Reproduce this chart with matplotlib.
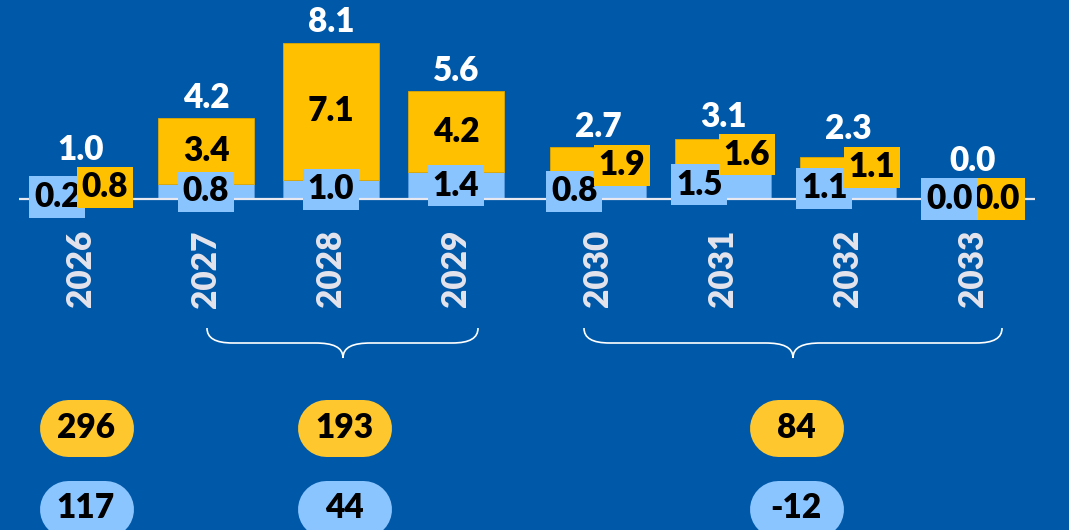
import numpy as np
import matplotlib
matplotlib.use("Agg")
import matplotlib.pyplot as plt
from matplotlib.patches import PathPatch
from matplotlib.path import Path

# -----------------------------
# Data
# -----------------------------
years = ["2026", "2027", "2028", "2029", "2030", "2031", "2032", "2033"]
blue_vals = [0.2, 0.8, 1.0, 1.4, 0.8, 1.5, 1.1, 0.0]
yellow_vals = [0.8, 3.4, 7.1, 4.2, 1.9, 1.6, 1.1, 0.0]
totals = [1.0, 4.2, 8.1, 5.6, 2.7, 3.1, 2.3, 0.0]

pill_yellow = ["296", "193", "84"]
pill_blue = ["117", "44", "-12"]

# -----------------------------
# Style
# -----------------------------
BG = "#0058A8"
YELLOW = "#FFC000"
LIGHTBLUE = "#8AC4FF"
PILL_YELLOW = "#FFC72E"
PILL_BLUE = "#8BC5FF"
WHITE = "#FFFFFF"
GREY = "#E4E4EC"

plt.rcParams["font.family"] = ["Lato", "DejaVu Sans"]
plt.rcParams["font.weight"] = "heavy"

W, H = 1069, 530
fig = plt.figure(figsize=(W / 100, H / 100), dpi=100, facecolor=BG)

# main axes covers the full height; baseline at pixel 199, 19.26 px per unit
px_unit_x = 125.0
px_unit_y = 19.26
x0_px = 81.0
base_px = 199.0
ax_left_px, ax_right_px = 19, 1035
ax = fig.add_axes([ax_left_px / W, 0, (ax_right_px - ax_left_px) / W, 1])
ax.set_facecolor(BG)
ax.set_xlim((ax_left_px - x0_px) / px_unit_x, (ax_right_px - x0_px) / px_unit_x)
ax.set_ylim(-(H - base_px) / px_unit_y, base_px / px_unit_y)
ax.axis("off")

idx = np.arange(len(years))
x = idx + np.where(idx >= 4, 0.136, 0.0)
bw = 0.77

ax.bar(x, blue_vals, bw, color=LIGHTBLUE, edgecolor="#5a9de0", linewidth=0.6, zorder=2)
ax.bar(x, yellow_vals, bw, bottom=blue_vals, color=YELLOW, edgecolor="#e0a800",
       linewidth=0.6, zorder=2)
ax.axhline(0, color="#E8E8F0", linewidth=1.6, zorder=3)

label_kw = dict(ha="center", va="center", fontsize=24, fontweight="heavy", color="black")
for i in range(len(years)):
    b, y, t = blue_vals[i], yellow_vals[i], totals[i]
    split = y < 2.0
    dx = 0.19 if split else 0.0
    yc = b + y / 2
    # last bar: blue label sits over the yellow one
    zb, zy = (6, 5) if b == 0 and y == 0 else (5, 6)
    ax.text(x[i] - dx, b / 2, f"{b:.1f}", bbox=dict(boxstyle="square,pad=0.14",
            fc=LIGHTBLUE, ec="none"), zorder=zb, **label_kw)
    ax.text(x[i] + dx, yc, f"{y:.1f}", bbox=dict(boxstyle="square,pad=0.14",
            fc=YELLOW, ec="none"), zorder=zy, **label_kw)
    top = yc + 1.45 if split else t + 0.55
    ax.text(x[i], top, f"{t:.1f}", ha="center", va="baseline", fontsize=24,
            fontweight="heavy", color=WHITE, zorder=5)
    ax.text(x[i], -31 / px_unit_y, years[i], rotation=90, ha="center", va="top",
            fontsize=24, fontweight="heavy", color=GREY, zorder=5)

# -----------------------------
# Overlay in pixel coordinates (braces and pills)
# -----------------------------
ov = fig.add_axes([0, 0, 1, 1])
ov.set_xlim(0, W)
ov.set_ylim(H, 0)
ov.axis("off")
ov.patch.set_alpha(0)


def brace(x1, x2, xm, ye=328, yf=343, yt=358):
    verts = [
        (x1, ye),
        (x1, ye + 10), (x1 + 8, yf), (x1 + 26, yf),
        (xm - 28, yf),
        (xm - 10, yf), (xm, yf + 4), (xm, yt),
        (xm, yf + 4), (xm + 10, yf), (xm + 28, yf),
        (x2 - 26, yf),
        (x2 - 8, yf), (x2, ye + 10), (x2, ye),
    ]
    codes = [Path.MOVETO, Path.CURVE4, Path.CURVE4, Path.CURVE4, Path.LINETO,
             Path.CURVE4, Path.CURVE4, Path.CURVE4, Path.CURVE4, Path.CURVE4, Path.CURVE4,
             Path.LINETO, Path.CURVE4, Path.CURVE4, Path.CURVE4]
    ov.add_patch(PathPatch(Path(verts, codes), fc="none", ec=WHITE, lw=1.2))


brace(207, 478, 343)
brace(584, 1002, 793)

# pills: thick lines with round caps, 57 px tall, 94 px wide
pill_x = [86, 344, 796]
pill_lw = 57 * 72 / 100
for cx, ty, tb in zip(pill_x, pill_yellow, pill_blue):
    for cy, txt, col in [(427.5, ty, PILL_YELLOW), (508.5, tb, PILL_BLUE)]:
        ov.plot([cx - 18.5, cx + 18.5], [cy, cy], color=col, lw=pill_lw,
                solid_capstyle="round")
        ov.text(cx, cy, txt, ha="center", va="center", fontsize=24,
                fontweight="heavy", color="black")

fig.savefig("out.png", dpi=100, facecolor=BG)
